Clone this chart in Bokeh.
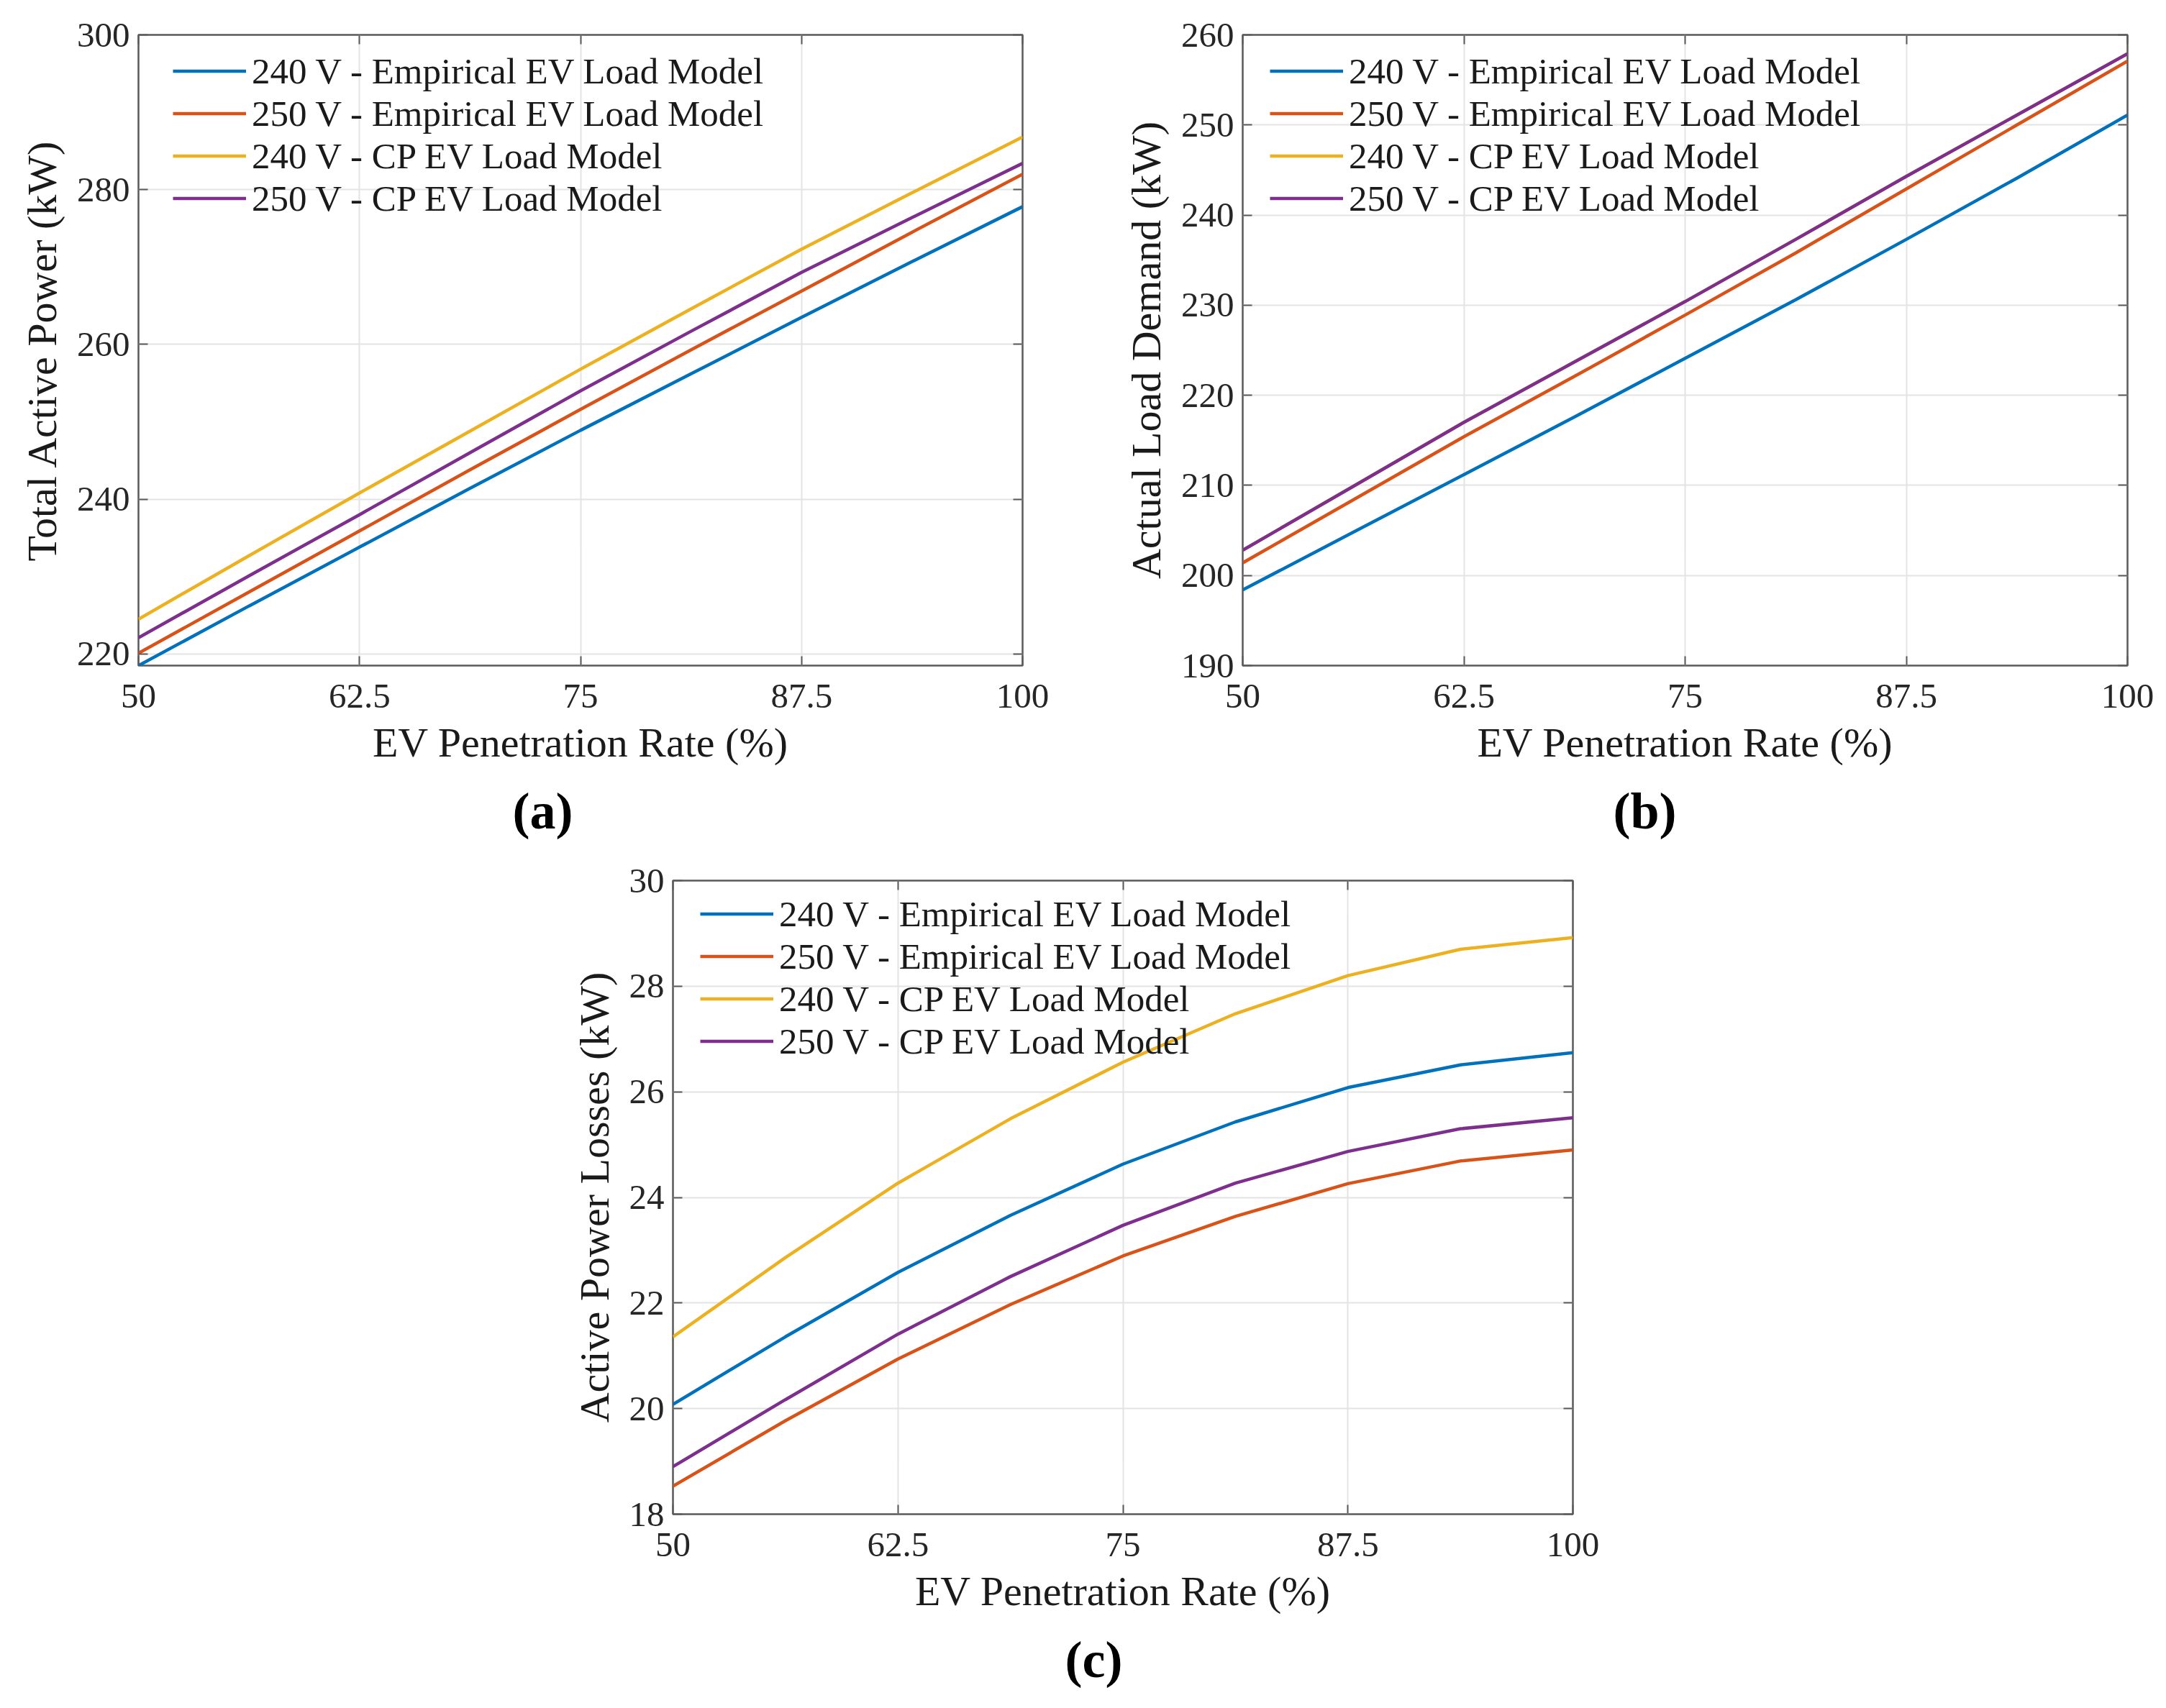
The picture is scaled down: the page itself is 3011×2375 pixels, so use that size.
from bokeh.plotting import figure
from bokeh.models import (Range1d, FixedTicker, LinearAxis, Legend, LegendItem,
                          Title, Spacer, CustomJSTickFormatter)
from bokeh.layouts import column, row
from bokeh.embed import file_html
from bokeh.resources import INLINE

# ---------------- data ----------------
x_rate = [50, 56.25, 62.5, 68.75, 75, 81.25, 87.5, 93.75, 100]
x_ticks = [50, 62.5, 75, 87.5, 100]
x_tick_labels = ["50", "62.5", "75", "87.5", "100"]

series_names = ["240 V - Empirical EV Load Model",
                "250 V - Empirical EV Load Model",
                "240 V - CP EV Load Model",
                "250 V - CP EV Load Model"]
series_colors = ["#0072BD", "#D95319", "#EDB120", "#7E2F8E"]

# (a) Total Active Power (kW)
a_240_emp = [218.5, 226.2, 233.8, 241.4, 248.9, 256.2, 263.5, 270.7, 277.8]
a_250_emp = [220.1, 228.0, 235.9, 243.8, 251.6, 259.3, 266.9, 274.5, 282.0]
a_240_cp = [224.5, 232.7, 240.8, 248.8, 256.8, 264.6, 272.3, 279.6, 286.8]
a_250_cp = [222.1, 230.1, 238.0, 246.0, 254.0, 261.7, 269.3, 276.4, 283.4]
a_y_ticks = [220, 240, 260, 280, 300]
a_y_tick_labels = ["220", "240", "260", "280", "300"]

# (b) Actual Load Demand (kW)
b_240_emp = [198.4, 204.8, 211.2, 217.6, 224.1, 230.6, 237.3, 244.1, 251.1]
b_250_emp = [201.4, 208.4, 215.4, 222.1, 228.9, 235.8, 242.9, 250.0, 257.1]
b_240_cp = [202.8, 209.9, 217.0, 223.7, 230.4, 237.3, 244.3, 251.1, 257.9]
b_250_cp = [202.8, 209.9, 217.0, 223.7, 230.4, 237.3, 244.3, 251.1, 257.9]
b_y_ticks = [190, 200, 210, 220, 230, 240, 250, 260]
b_y_tick_labels = ["190", "200", "210", "220", "230", "240", "250", "260"]

# (c) Active Power Losses (kW)
c_240_emp = [20.08, 21.36, 22.58, 23.66, 24.63, 25.43, 26.08, 26.51, 26.74]
c_250_emp = [18.53, 19.77, 20.94, 21.97, 22.89, 23.64, 24.26, 24.69, 24.90]
c_240_cp = [21.36, 22.86, 24.27, 25.49, 26.56, 27.48, 28.20, 28.70, 28.92]
c_250_cp = [18.90, 20.17, 21.41, 22.50, 23.47, 24.27, 24.87, 25.30, 25.51]
c_y_ticks = [18, 20, 22, 24, 26, 28, 30]
c_y_tick_labels = ["18", "20", "22", "24", "26", "28", "30"]

x_label = "EV Penetration Rate (%)"

FONT = "Liberation Serif"
BOX = "#5a5a5a"


def blank_fmt():
    return CustomJSTickFormatter(code="return ''")


def make_panel(series, y_rng, y_ticks, y_tick_labels, y_label, caption,
               width, height, bl, br, bt, bb, frame_h,
               leg_x, leg_top, cap_offset):
    p = figure(width=width, height=height, title=None,
               x_range=Range1d(50, 100), y_range=Range1d(*y_rng),
               output_backend="svg", toolbar_location=None,
               min_border_left=bl, min_border_right=br,
               min_border_top=bt, min_border_bottom=bb,
               background_fill_color="white", border_fill_color="white")
    p.outline_line_color = BOX
    p.outline_line_width = 2.5

    xa = p.xaxis[0]
    ya = p.yaxis[0]
    xa.ticker = FixedTicker(ticks=x_ticks)
    xa.major_label_overrides = dict(zip(x_ticks, x_tick_labels))
    ya.ticker = FixedTicker(ticks=y_ticks)
    ya.major_label_overrides = dict(zip(y_ticks, y_tick_labels))
    xa.axis_label = x_label
    ya.axis_label = y_label
    for ax in (xa, ya):
        ax.axis_line_color = None
        ax.major_tick_in = 13
        ax.major_tick_out = 0
        ax.major_tick_line_color = BOX
        ax.major_tick_line_width = 2
        ax.minor_tick_line_color = None
        ax.major_label_text_font = FONT
        ax.major_label_text_font_size = "49px"
        ax.major_label_text_color = "#262626"
        ax.axis_label_text_font = FONT
        ax.axis_label_text_font_size = "58px"
        ax.axis_label_text_font_style = "normal"
        ax.axis_label_text_color = "#1a1a1a"
    xa.major_label_standoff = 26
    xa.axis_label_standoff = 13
    ya.major_label_standoff = 12
    ya.axis_label_standoff = 13

    # mirrored ticks on top and right
    top = LinearAxis(ticker=FixedTicker(ticks=x_ticks), formatter=blank_fmt())
    right = LinearAxis(ticker=FixedTicker(ticks=y_ticks), formatter=blank_fmt())
    for ax in (top, right):
        ax.axis_line_color = None
        ax.major_tick_in = 13
        ax.major_tick_out = 0
        ax.major_tick_line_color = BOX
        ax.major_tick_line_width = 2
        ax.minor_tick_line_color = None
        ax.major_label_text_font_size = "0px"
    p.add_layout(top, "above")
    p.add_layout(right, "right")

    p.xgrid.ticker = FixedTicker(ticks=x_ticks)
    p.ygrid.ticker = FixedTicker(ticks=y_ticks)
    for g in (p.xgrid, p.ygrid):
        g.grid_line_color = "#e4e4e4"
        g.grid_line_width = 2

    items = []
    for name, color, ys in zip(series_names, series_colors, series):
        r = p.line(x_rate, ys, line_color=color, line_width=4.5)
        items.append(LegendItem(label=name, renderers=[r]))

    row_h = 59.5
    leg_h = row_h * 4
    leg = Legend(items=items,
                 location=(leg_x, frame_h - (leg_top - row_h / 2) - leg_h),
                 label_text_font=FONT, label_text_font_size="51px",
                 label_text_color="#1a1a1a",
                 glyph_width=102, glyph_height=int(row_h), label_height=int(row_h),
                 label_standoff=8, spacing=0, padding=0, margin=0,
                 border_line_color=None, background_fill_alpha=0)
    p.add_layout(leg)

    cap = Title(text=caption, align="left", offset=cap_offset,
                text_font=FONT, text_font_size="72px", text_font_style="bold",
                text_color="#000000", standoff=36)
    p.add_layout(cap, "below")
    return p


FH = 887
H1 = 1185
pa = make_panel([a_240_emp, a_250_emp, a_240_cp, a_250_cp], (218.5, 300),
                a_y_ticks, a_y_tick_labels, "Total Active Power (kW)", "(a)",
                width=1530, height=H1, bl=192, br=1530 - 192 - 1229, bt=48,
                bb=H1 - 48 - FH, frame_h=FH,
                leg_x=48, leg_top=59, cap_offset=520)

pb = make_panel([b_240_emp, b_250_emp, b_240_cp, b_250_cp], (190, 260),
                b_y_ticks, b_y_tick_labels, "Actual Load Demand (kW)", "(b)",
                width=197 + 1230 + 50, height=H1, bl=197, br=50, bt=48,
                bb=H1 - 48 - FH, frame_h=FH,
                leg_x=38, leg_top=59, cap_offset=515)

H2 = 1180
pc = make_panel([c_240_emp, c_250_emp, c_240_cp, c_250_cp], (18, 30),
                c_y_ticks, c_y_tick_labels, "Active Power Losses (kW)", "(c)",
                width=200 + 1251 + 60, height=H2, bl=200, br=60, bt=1224 - H1,
                bb=H2 - (1224 - H1) - FH, frame_h=FH,
                leg_x=38, leg_top=51, cap_offset=545)

layout = column(row(pa, pb), row(Spacer(width=735, height=H2), pc))

open("out.html", "w").write(file_html(layout, INLINE))
